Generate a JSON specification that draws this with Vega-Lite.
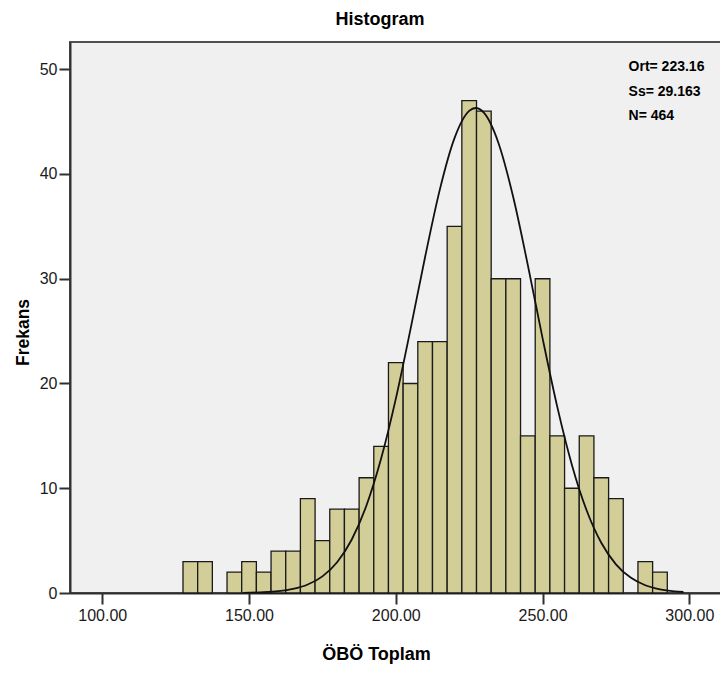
{
  "$schema": "https://vega.github.io/schema/vega-lite/v6.json",
  "autosize": "none",
  "width": 656,
  "height": 551,
  "padding": {"left": 70, "top": 42, "right": 0, "bottom": 82},
  "background": "white",
  "config": {
    "view": {"fill": "#F0F0F0", "stroke": "#505050", "strokeWidth": 2},
    "font": "Liberation Sans"
  },
  "title": {
    "text": "Histogram",
    "font": "Liberation Sans",
    "fontWeight": "bold",
    "fontSize": 18,
    "color": "#000000",
    "anchor": "middle",
    "dx": -18,
    "offset": -1,
    "baseline": "alphabetic"
  },
  "datasets": {
    "bins": [
      {"bin_start": 127.5, "bin_end": 132.5, "count": 3},
      {"bin_start": 132.5, "bin_end": 137.5, "count": 3},
      {"bin_start": 142.5, "bin_end": 147.5, "count": 2},
      {"bin_start": 147.5, "bin_end": 152.5, "count": 3},
      {"bin_start": 152.5, "bin_end": 157.5, "count": 2},
      {"bin_start": 157.5, "bin_end": 162.5, "count": 4},
      {"bin_start": 162.5, "bin_end": 167.5, "count": 4},
      {"bin_start": 167.5, "bin_end": 172.5, "count": 9},
      {"bin_start": 172.5, "bin_end": 177.5, "count": 5},
      {"bin_start": 177.5, "bin_end": 182.5, "count": 8},
      {"bin_start": 182.5, "bin_end": 187.5, "count": 8},
      {"bin_start": 187.5, "bin_end": 192.5, "count": 11},
      {"bin_start": 192.5, "bin_end": 197.5, "count": 14},
      {"bin_start": 197.5, "bin_end": 202.5, "count": 22},
      {"bin_start": 202.5, "bin_end": 207.5, "count": 20},
      {"bin_start": 207.5, "bin_end": 212.5, "count": 24},
      {"bin_start": 212.5, "bin_end": 217.5, "count": 24},
      {"bin_start": 217.5, "bin_end": 222.5, "count": 35},
      {"bin_start": 222.5, "bin_end": 227.5, "count": 47},
      {"bin_start": 227.5, "bin_end": 232.5, "count": 46},
      {"bin_start": 232.5, "bin_end": 237.5, "count": 30},
      {"bin_start": 237.5, "bin_end": 242.5, "count": 30},
      {"bin_start": 242.5, "bin_end": 247.5, "count": 15},
      {"bin_start": 247.5, "bin_end": 252.5, "count": 30},
      {"bin_start": 252.5, "bin_end": 257.5, "count": 15},
      {"bin_start": 257.5, "bin_end": 262.5, "count": 10},
      {"bin_start": 262.5, "bin_end": 267.5, "count": 15},
      {"bin_start": 267.5, "bin_end": 272.5, "count": 11},
      {"bin_start": 272.5, "bin_end": 277.5, "count": 9},
      {"bin_start": 282.5, "bin_end": 287.5, "count": 3},
      {"bin_start": 287.5, "bin_end": 292.5, "count": 2}
    ],
    "curve": [
      {"x": 148, "y": 0.018},
      {"x": 150, "y": 0.029},
      {"x": 155, "y": 0.073},
      {"x": 160, "y": 0.173},
      {"x": 165, "y": 0.386},
      {"x": 170, "y": 0.808},
      {"x": 175, "y": 1.589},
      {"x": 180, "y": 2.939},
      {"x": 185, "y": 5.11},
      {"x": 190, "y": 8.35},
      {"x": 195, "y": 12.83},
      {"x": 200, "y": 18.53},
      {"x": 205, "y": 25.16},
      {"x": 210, "y": 32.10},
      {"x": 215, "y": 38.51},
      {"x": 220, "y": 43.42},
      {"x": 225, "y": 46.02},
      {"x": 227.2, "y": 46.3},
      {"x": 230, "y": 45.85},
      {"x": 235, "y": 42.94},
      {"x": 240, "y": 37.80},
      {"x": 245, "y": 31.28},
      {"x": 250, "y": 24.33},
      {"x": 255, "y": 17.79},
      {"x": 260, "y": 12.23},
      {"x": 265, "y": 7.90},
      {"x": 270, "y": 4.80},
      {"x": 275, "y": 2.74},
      {"x": 280, "y": 1.47},
      {"x": 285, "y": 0.741},
      {"x": 290, "y": 0.351},
      {"x": 295, "y": 0.157},
      {"x": 298, "y": 0.096}
    ],
    "stats": [
      {"stats": ["Ort= 223.16", "Ss= 29.163", "N= 464"]}
    ]
  },
  "layer": [
    {
      "data": {"name": "bins"},
      "mark": {"type": "rect", "fill": "#D3CE97", "stroke": "#1a1a1a", "strokeWidth": 1.3},
      "encoding": {
        "x": {
          "field": "bin_start",
          "type": "quantitative",
          "scale": {"domain": [89, 312.5], "nice": false, "zero": false},
          "axis": {
            "title": "ÖBÖ Toplam",
            "values": [100, 150, 200, 250, 300],
            "format": ".2f",
            "grid": false,
            "domainColor": "#303030",
            "domainWidth": 2,
            "tickColor": "#303030",
            "tickWidth": 2,
            "tickSize": 11,
            "labelFont": "Liberation Sans",
            "labelFontSize": 16,
            "labelColor": "#1a1a1a",
            "labelPadding": 3,
            "titleFont": "Liberation Sans",
            "titleFontWeight": "bold",
            "titleFontSize": 18,
            "titleColor": "#000000",
            "titleX": 306,
            "titleY": 66,
            "titleBaseline": "alphabetic",
            "titleAlign": "center"
          }
        },
        "x2": {"field": "bin_end"},
        "y": {
          "field": "count",
          "type": "quantitative",
          "scale": {"domain": [0, 52.6], "nice": false},
          "axis": {
            "title": "Frekans",
            "values": [0, 10, 20, 30, 40, 50],
            "grid": false,
            "domainColor": "#303030",
            "domainWidth": 2,
            "tickColor": "#303030",
            "tickWidth": 2,
            "tickSize": 11,
            "labelFont": "Liberation Sans",
            "labelFontSize": 16,
            "labelColor": "#1a1a1a",
            "labelPadding": 2,
            "titleFont": "Liberation Sans",
            "titleFontWeight": "bold",
            "titleFontSize": 17.5,
            "titleColor": "#000000",
            "titleX": -47,
            "titleY": 290,
            "titleBaseline": "middle",
            "titleAlign": "center",
            "titleAngle": -90
          }
        },
        "y2": {"datum": 0}
      }
    },
    {
      "data": {"name": "curve"},
      "mark": {"type": "line", "color": "#111111", "strokeWidth": 1.8, "interpolate": "monotone", "clip": true},
      "encoding": {
        "x": {"field": "x", "type": "quantitative"},
        "y": {"field": "y", "type": "quantitative"}
      }
    },
    {
      "data": {"name": "stats"},
      "mark": {
        "type": "text",
        "align": "left",
        "baseline": "middle",
        "font": "Liberation Sans",
        "fontWeight": "bold",
        "fontSize": 14,
        "lineHeight": 24.5,
        "color": "#000000"
      },
      "encoding": {
        "x": {"datum": 279.3},
        "y": {"datum": 50.2},
        "text": {"field": "stats"}
      }
    }
  ]
}
